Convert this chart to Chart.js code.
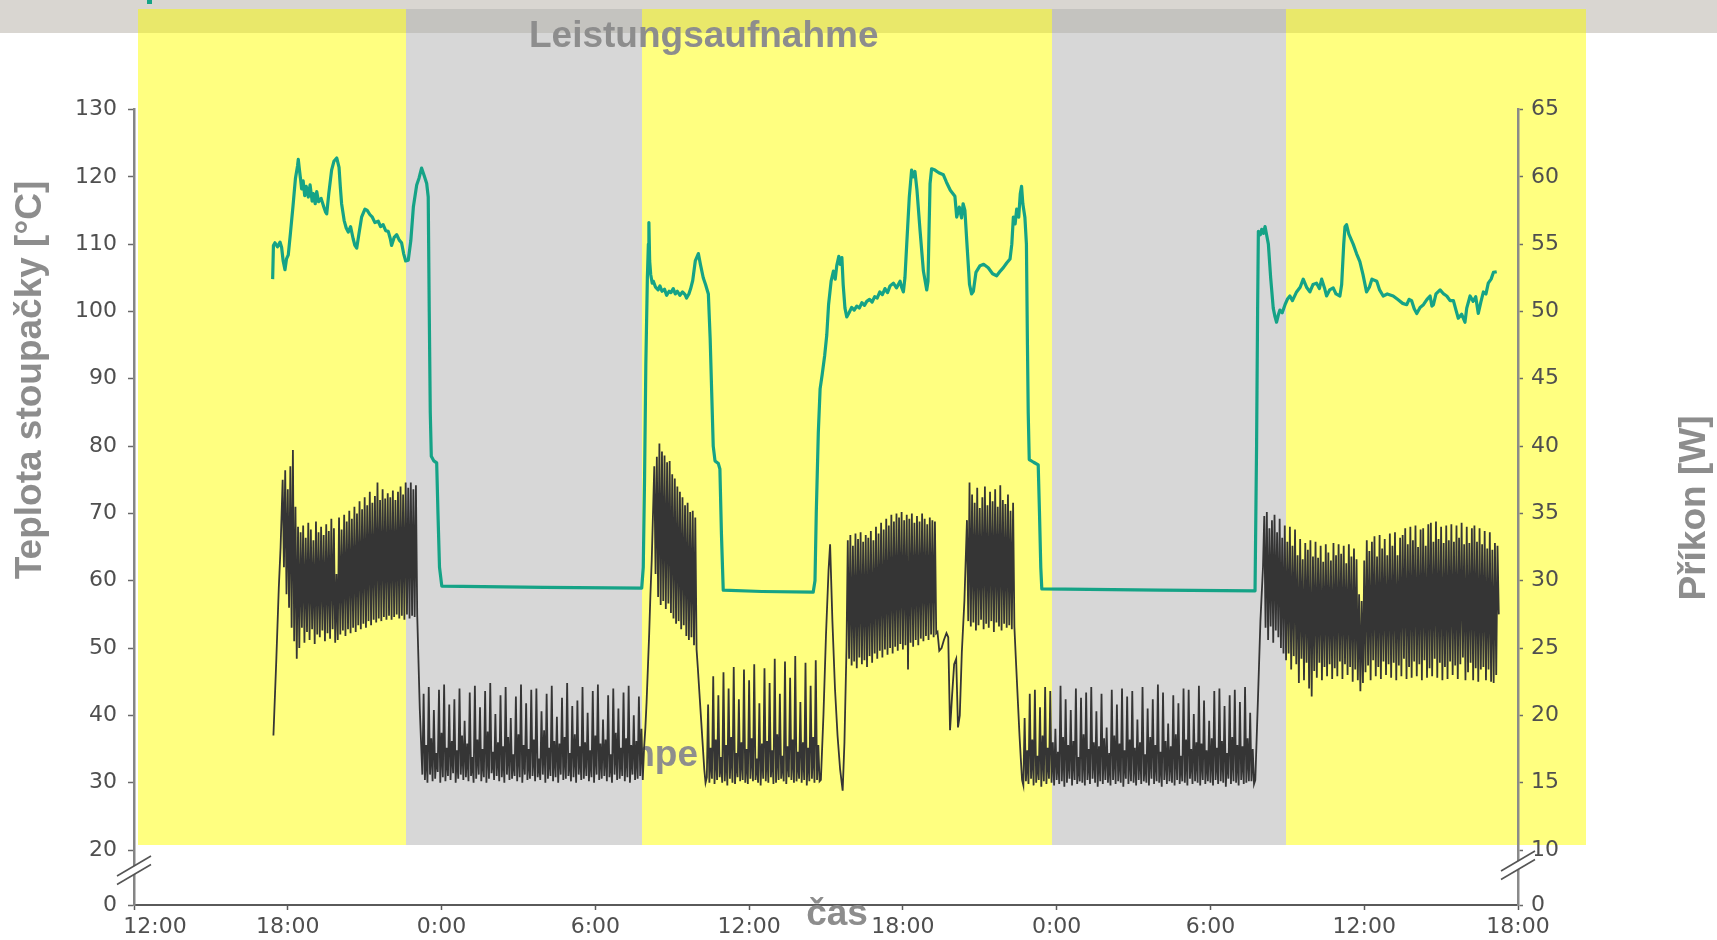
<!DOCTYPE html>
<html>
<head>
<meta charset="utf-8">
<script src="https://cdn.jsdelivr.net/npm/chart.js@4.4.1/dist/chart.umd.min.js"></script>
<style>
  html, body { margin: 0; padding: 0; background: #fff; overflow: hidden; }
  canvas { display: block; }
</style>
</head>
<body>
<canvas id="chart" width="1717" height="940"></canvas>
<script>
// ---- Axes -------------------------------------------------------------
// Time axis runs in hours, starting at 12:00 on the first day.
const TIME_LABELS = ['12:00', '18:00', '0:00', '6:00', '12:00', '18:00', '0:00', '6:00', '12:00', '18:00'];
const TIME_STEP_HOURS = 6;
const TEMP_TICKS = [20, 30, 40, 50, 60, 70, 80, 90, 100, 110, 120, 130];
const POWER_TICKS = [10, 15, 20, 25, 30, 35, 40, 45, 50, 55, 60, 65];

// Day (lit) and night periods, in hours
const DAY_PERIODS = [[0.15, 10.6], [19.81, 35.81], [44.93, 56.65]];
const NIGHT_PERIODS = [[10.6, 19.81], [35.81, 44.93]];

// ---- Riser temperature [°C] as [hour, value] ---------------------------
const TEMP_DAY1 = [[5.41,104.8],[5.44,109.8],[5.5,110.2],[5.6,109.6],[5.7,110.3],[5.76,109.5],[5.82,107.5],[5.89,106.2],[5.95,107.8],[6.02,108.4],[6.1,111.5],[6.2,115.5],[6.3,119.8],[6.38,121.6],[6.41,122.6],[6.45,121.2],[6.5,119.6],[6.54,118.2],[6.6,119.4],[6.66,117.2],[6.72,118.6],[6.8,117.0],[6.87,118.8],[6.95,116.4],[7.0,117.5],[7.07,116.0],[7.13,117.8],[7.2,116.3],[7.3,116.8],[7.4,115.6],[7.47,114.8],[7.52,114.5],[7.6,117.5],[7.71,121.0],[7.8,122.3],[7.91,122.8],[8.0,121.4],[8.05,118.5],[8.1,116.0],[8.2,113.5],[8.28,112.4],[8.36,111.8],[8.45,112.6],[8.55,110.8],[8.62,109.8],[8.69,109.4],[8.78,111.6],[8.88,114.0],[9.01,115.2],[9.1,115.0],[9.2,114.4],[9.3,114.0],[9.4,113.2],[9.53,113.4],[9.62,112.6],[9.72,112.9],[9.82,112.0],[9.92,111.9],[10.0,110.8],[10.05,109.8],[10.15,111.0],[10.25,111.4],[10.35,110.6],[10.44,110.2],[10.52,108.6],[10.6,107.5],[10.7,107.6],[10.8,110.5],[10.9,115.5],[11.03,118.8],[11.12,119.8],[11.22,121.3],[11.32,120.2],[11.42,119.0],[11.48,117.0],[11.52,100],[11.56,85],[11.6,78.5],[11.7,77.8],[11.81,77.5],[11.86,70],[11.92,62],[12.01,59.2],[16.0,59.0],[19.81,58.9]];
const TEMP_DAY2_MORNING = [[19.87,62],[19.92,75],[19.97,92],[20.03,105],[20.07,110],[20.09,113.2],[20.12,107.5],[20.16,105.5],[20.22,104.2],[20.26,104.5],[20.35,103.6],[20.45,103.2],[20.52,103.8],[20.6,103.0],[20.7,103.3],[20.78,102.4],[20.88,103.0],[20.95,102.8],[21.04,103.4],[21.12,102.6],[21.2,103.0],[21.3,102.4],[21.4,102.9],[21.5,102.5],[21.56,102.0],[21.65,102.6],[21.72,103.4],[21.8,104.6],[21.9,107.5],[22.02,108.6],[22.1,107.0],[22.21,105.0],[22.3,104.0],[22.41,102.6],[22.48,96],[22.54,88],[22.6,80],[22.67,77.8],[22.8,77.4],[22.86,76.6],[22.92,67],[22.99,58.6],[24.5,58.4],[26.5,58.3]];
const TEMP_DAY2_AFTERNOON = [[26.57,60],[26.62,70],[26.7,82],[26.77,88.5],[26.85,90.6],[26.95,93.5],[27.03,96.5],[27.1,101],[27.2,104.5],[27.29,106],[27.36,104.8],[27.42,106.8],[27.5,108.2],[27.55,107],[27.62,108],[27.67,104],[27.74,100.5],[27.81,99.2],[27.9,99.8],[28.0,100.6],[28.1,100.2],[28.2,100.8],[28.3,100.5],[28.4,101.3],[28.5,100.9],[28.59,101.5],[28.7,101.8],[28.8,101.4],[28.9,102.2],[29.0,102.0],[29.1,102.9],[29.2,102.5],[29.3,103.4],[29.4,102.8],[29.5,103.8],[29.63,104.2],[29.75,103.5],[29.89,104.5],[29.95,103.6],[30.02,102.9],[30.08,105],[30.15,110],[30.25,117],[30.34,121],[30.4,120],[30.47,120.8],[30.55,118],[30.67,112],[30.8,106],[30.93,103.2],[30.98,104.5],[31.02,112],[31.06,119],[31.12,121.2],[31.25,121.0],[31.4,120.6],[31.58,120.3],[31.7,119.2],[31.85,118],[32.03,117.1],[32.1,114],[32.2,115.5],[32.29,113.9],[32.35,116],[32.42,115.0],[32.5,110],[32.6,104],[32.68,102.6],[32.75,103],[32.85,105.8],[33.01,106.8],[33.15,107],[33.33,106.5],[33.5,105.6],[33.66,105.3],[33.8,106.0],[33.92,106.5],[34.05,107.2],[34.18,107.8],[34.25,110],[34.31,114],[34.38,113],[34.44,115.2],[34.52,114],[34.58,117.5],[34.63,118.6],[34.68,116],[34.76,114],[34.82,110],[34.86,95],[34.89,85],[34.93,78],[35.1,77.6],[35.28,77.2],[35.33,70],[35.38,62],[35.42,58.8]];
const TEMP_DAY3 = [[40.0,58.6],[43.74,58.5],[43.8,80],[43.84,100],[43.87,111.9],[43.95,111.4],[44.0,112.2],[44.07,111.6],[44.13,112.6],[44.2,111.2],[44.26,110],[44.35,105],[44.45,100.5],[44.52,99.2],[44.58,98.4],[44.65,99.5],[44.71,100.2],[44.8,99.8],[44.91,101],[45.0,101.8],[45.1,102.3],[45.2,101.6],[45.36,102.9],[45.5,103.6],[45.62,104.8],[45.75,103.6],[45.88,102.9],[46.0,104.0],[46.14,104.2],[46.25,103.4],[46.34,104.8],[46.45,103.5],[46.53,102.3],[46.65,103.2],[46.79,103.5],[46.9,102.6],[47.05,102.3],[47.12,104],[47.2,110],[47.25,112.6],[47.31,112.9],[47.4,111.5],[47.57,110],[47.7,108.6],[47.83,107.4],[47.95,105.5],[48.09,102.9],[48.2,103.6],[48.3,104.8],[48.49,104.5],[48.6,103.2],[48.74,102.3],[48.9,102.6],[49.13,102.3],[49.3,101.8],[49.5,101.2],[49.66,101],[49.75,101.8],[49.85,101.6],[49.95,100.4],[50.05,99.7],[50.18,100.6],[50.31,101],[50.45,101.8],[50.57,102.3],[50.64,100.8],[50.7,101],[50.8,102.6],[50.96,103.2],[51.1,102.6],[51.22,102.3],[51.35,101.6],[51.48,101.6],[51.58,100.2],[51.67,99],[51.8,99.6],[51.93,98.4],[52.0,100.5],[52.13,102.3],[52.25,101.5],[52.35,102.2],[52.45,99.7],[52.55,101.4],[52.65,102.9],[52.75,102.6],[52.84,104.2],[52.95,104.8],[53.04,105.8],[53.17,105.9]];

// ---- Power input [W] ----------------------------------------------------
// Logged every 0.05 h; runs give their start hour, single events are [hour, value].
const SAMPLE_STEP = 0.05;
const POWER_RISE_1 = [[5.44,18.5],[5.55,24],[5.65,29.5],[5.72,32.5]];
const POWER_DAY1 = [
  37.5,31,38.2,29,36.8,28,38.5,26.5,39.7,25.5,
  35.5,24.2,34.0,25.0,33.6,26.5,34.1,25.4,33.2,26.2,
  34.3,25.6,33.8,26.4,33.0,25.3,34.4,26.0,33.6,25.8,
  34.0,26.3,33.4,25.5,34.2,26.1,33.7,25.7,34.6,26.4,
  33.9,25.4,30.5,25.6,34.7,26.0,33.8,26.3,34.9,25.9,
  34.4,26.4,35.2,26.1,34.6,26.5,35.5,26.2,35.0,26.7,
  35.9,26.4,35.3,26.8,36.2,26.5,35.6,27.0,36.6,26.7,
  35.8,27.1,36.3,26.9,37.3,27.2,36.0,27.0,36.8,27.3,
  36.1,27.1,36.5,27.4,36.2,27.1,36.7,27.3,36.0,27.5,
  36.6,27.2,37.0,27.4,36.4,27.1,37.3,27.5,36.9,27.2,
  37.3,27.4,36.8,27.3,37.1];
const POWER_NIGHT1 = [
  27.5,24.0,20.5,18.0,15.6,
  21.6,15.2,17.8,15.0,22.1,15.6,18.3,15.1,
  20.4,15.3,17.2,15.8,21.9,15.0,18.7,15.4,
  22.3,15.1,17.6,15.5,20.8,15.2,18.1,15.7,
  21.2,15.0,17.4,15.3,22.0,15.6,18.5,15.2,
  19.6,15.4,17.9,15.1,21.7,15.5,16.9,15.0,
  22.2,15.3,18.2,15.6,20.6,15.1,17.5,15.4,
  21.8,15.0,18.8,15.3,22.4,15.7,17.3,15.2,
  20.1,15.5,18.0,15.1,21.5,15.4,17.7,15.0,
  22.1,15.6,18.4,15.2,19.8,15.3,17.1,15.5,
  21.4,15.1,18.6,15.4,22.3,15.0,17.8,15.6,
  20.9,15.2,17.5,15.3,21.9,15.5,18.2,15.1,
  22.0,15.4,16.8,15.2,20.3,15.6,18.9,15.0,
  21.6,15.3,17.6,15.5,22.2,15.1,18.1,15.4,
  19.9,15.0,17.9,15.6,21.3,15.2,18.4,15.3,
  22.4,15.5,17.2,15.1,20.7,15.4,18.6,15.0,
  21.1,15.6,17.7,15.2,22.1,15.3,18.0,15.5,
  20.2,15.1,17.4,15.4,21.8,15.0,18.5,15.6,
  22.3,15.2,17.9,15.3,19.7,15.5,18.2,15.1,
  21.5,15.4,17.1,15.0,22.0,15.6,18.7,15.2,
  20.5,15.3,17.6,15.5,21.7,15.1,18.3,15.4,
  22.2,15.0,17.8,15.6,20.0,15.2,18.1,15.3,
  21.4,15.5,19.0,15.2];
const POWER_MORNING2 = [
  17.5,19,21,23.5,26,29,31.5,35,38.5,30.5,
  39.2,28.8,40.2,28.2,39.6,28.5,39.3,27.9,38.8,28.3,
  38.9,27.6,37.9,27.2,37.6,26.8,37.0,27.0,36.6,26.4,
  36.2,26.7,35.6,25.9,35.8,25.6,35.1,25.8,35.2,25.2,
  34.7,24.9,23.5,22,20.5,19,17.5,16];
const POWER_MIDDAY2 = [
  15.0,15.4,
  20.8,15.0,17.6,15.3, 22.9,14.9,18.2,15.2, 21.5,15.4,16.9,15.0,
  23.2,15.1,17.8,14.8, 22.0,15.3,18.4,15.0, 23.6,14.9,17.2,15.4,
  21.2,15.1,18.0,15.2, 23.4,15.0,17.5,14.9, 22.6,15.3,18.3,15.1,
  23.8,15.2,16.8,15.0, 20.9,14.8,17.9,15.3, 23.5,15.1,18.1,15.0,
  22.4,15.4,17.4,14.9, 24.2,15.0,18.6,15.2, 21.6,15.3,17.0,15.1,
  24.0,14.9,17.7,15.4, 22.8,15.2,18.2,15.0, 24.4,15.1,17.3,15.3,
  21.0,15.0,18.0,15.2, 23.9,14.8,17.6,15.1, 22.2,15.3,18.4,15.0,
  24.1,15.2,17.8,15.1];
const POWER_SPIKE2 = [[26.8,15.2],[26.9,20],[27.0,26],[27.1,30.8],[27.16,32.7],[27.25,27],[27.35,22],[27.45,18.5],[27.55,16],[27.65,14.4],[27.72,18],[27.8,25]];
const POWER_AFTERNOON2 = [
  33.0,24.2,33.4,23.7,32.6,24.0,33.5,23.5,33.1,24.3,
  33.6,23.8,32.9,24.1,33.4,23.6,33.2,24.4,33.7,23.9,
  33.0,24.6,34.0,24.2,33.5,24.8,34.3,24.3,33.8,24.9,
  34.6,24.5,34.1,25.0,34.9,24.6,34.4,25.1,35.0,24.8,
  34.7,25.3,35.1,24.9,34.5,25.2,34.9,23.4,34.6,25.4,
  35.0,25.1,34.3,25.6,34.8,25.2,34.4,25.7,35.0,25.5,
  34.6,25.9,34.2,25.6,34.7,26.0,34.5,25.8,34.4,26.1];
const POWER_DIP2 = [[31.35,26.2],[31.42,24.8],[31.51,25.0],[31.6,25.6],[31.7,26.1],[31.77,25.8],[31.84,18.9],[31.92,21.5],[32.0,23.8],[32.08,24.2],[32.15,19.1],[32.22,20],[32.3,24.7],[32.4,28.5]];
const POWER_EVENING2 = [
  31.5,34.5,27.0,37.3,26.6,36.4,26.9,35.8,26.3,36.9,
  26.7,35.4,27.1,36.2,26.4,37.0,26.8,35.6,26.5,36.6,
  27.0,35.9,26.2,36.8,26.9,35.5,26.6,37.1,26.3,36.0,
  26.8,35.7,26.5,36.4,26.7,35.2,26.4,35.8,26.6];
const POWER_NIGHT2 = [
  24.5,22.5,20.5,18.5,16.8,15.2,14.8,
  19.8,15.1,17.4,14.9,21.6,15.3,18.2,14.8,
  21.9,15.0,17.0,15.2,20.6,14.7,18.5,15.1,
  22.1,14.9,17.6,15.3,21.8,15.0,18.0,14.8,
  19.0,15.2,17.3,14.9,22.2,15.1,18.4,14.7,
  21.2,15.0,17.8,15.3,20.4,14.8,18.1,15.2,
  22.0,14.9,16.9,15.1,21.3,15.0,18.6,14.8,
  21.7,15.2,17.5,14.9,22.1,15.3,18.0,15.0,
  20.3,14.7,17.7,15.1,21.6,14.9,18.3,15.2,
  19.1,15.0,17.2,14.8,21.9,15.2,18.5,14.9,
  20.8,15.1,17.9,15.0,22.0,14.7,17.4,15.3,
  21.4,14.9,18.2,15.1,21.8,15.0,17.6,14.8,
  19.7,15.2,18.0,14.9,22.1,15.1,17.1,15.0,
  20.5,14.8,18.4,15.3,21.2,14.9,17.8,15.1,
  22.3,15.0,17.3,14.7,21.7,15.2,18.1,14.9,
  19.4,15.1,17.7,15.0,21.5,14.8,18.6,15.2,
  20.9,14.9,17.0,15.1,22.0,15.0,18.2,14.8,
  21.9,15.3,17.5,14.9,20.1,15.1,18.0,15.0,
  22.2,14.8,17.9,15.2,21.1,14.9,17.4,15.1,
  19.6,15.0,18.3,14.8,21.8,15.2,17.6,14.9,
  22.0,15.1,18.1,15.0,20.7,14.7,17.2,15.3,
  21.5,14.9,18.4,15.1,21.9,15.0,17.8,14.8,
  21.0,15.2,17.7,14.9,22.1,15.0,18.3,15.1,
  20.2,15.1,17.5,14.9];
const POWER_RISE_3 = [[43.75,15.2],[43.85,21],[43.95,27],[44.05,31]];
const POWER_DAY3 = [
  34.8,26.5,35.1,25.6,33.9,26.6,34.5,25.4,34.9,26.3,
  33.6,25.8,34.6,25.0,33.2,24.6,34.1,24.1,32.9,24.6,
  34.0,23.4,32.6,24.4,33.8,23.8,31.9,22.4,33.1,24.2,
  31.6,22.6,32.8,23.9,32.3,22.0,33.0,21.4,31.8,23.3,
  32.9,22.8,31.7,23.9,32.6,22.6,31.4,23.6,32.7,22.9,
  32.1,23.8,31.5,22.7,32.8,23.5,31.9,22.9,32.7,24.0,
  32.0,22.7,32.6,23.8,31.3,23.0,32.7,23.6,31.8,22.5,
  32.4,23.4,31.6,22.6,29.0,21.8,28.5,22.4,31.5,23.2,
  33.0,23.7,32.2,22.6,32.9,24.1,33.3,22.9,31.8,23.6,
  33.4,22.7,32.4,24.0,33.1,23.0,31.9,23.8,33.5,22.8,
  32.6,23.9,33.6,22.6,31.9,23.7,33.2,22.9,33.4,24.2,
  33.9,22.7,32.7,23.6,34.0,22.8,33.0,24.0,34.1,22.9,
  32.5,23.8,33.8,22.6,33.9,24.1,32.6,22.8,34.2,23.5,
  34.3,22.9,32.9,24.2,34.4,22.8,33.1,23.9,34.0,22.6,
  32.8,23.6,34.1,22.7,33.0,24.0,34.2,23.0,32.9,23.7,
  34.1,22.7,33.2,23.8,34.3,24.3,32.7,22.6,34.0,23.2,
  32.8,23.9,33.9,22.6,34.1,23.5,32.9,22.5,33.9,23.4,
  32.7,23.6,33.7,22.6,32.4,23.4,33.6,22.5,32.3,22.4,
  32.8,23.0,32.6,27.5];

// ---- Build point lists ---------------------------------------------------
const pairs = list => list.map(([x, y]) => ({ x, y }));
const run = (t0, values) => values.map((y, i) => ({ x: +(t0 + i * SAMPLE_STEP).toFixed(3), y }));

const temperaturePoints = pairs([...TEMP_DAY1, ...TEMP_DAY2_MORNING, ...TEMP_DAY2_AFTERNOON, ...TEMP_DAY3]);
const powerPoints = [
  ...pairs(POWER_RISE_1),
  ...run(5.8, POWER_DAY1),
  ...run(11.05, POWER_NIGHT1),
  ...run(19.9, POWER_MORNING2),
  ...run(22.3, POWER_MIDDAY2),
  ...pairs(POWER_SPIKE2),
  ...run(27.85, POWER_AFTERNOON2),
  ...pairs(POWER_DIP2),
  ...run(32.45, POWER_EVENING2),
  ...run(34.4, POWER_NIGHT2),
  ...pairs(POWER_RISE_3),
  ...run(44.1, POWER_DAY3)
];

// Broken value axes: the lowest position carries the "0" label.
const TEMP_MAX = 130, TEMP_BREAK_MIN = 11.83;
const POWER_MAX = 65, POWER_BREAK_MIN = TEMP_BREAK_MIN / 2;

// ---- Styling --------------------------------------------------------------
const TEAL = '#15a386';
const INK = '#353535';
const CAPTION = '#8d8d8d';
const TICK_TEXT = '#4f4f4f';
const CAPTION_FONT = 'bold 37px "Liberation Sans", Arial, sans-serif';
const BAND_TOP = 9, BAND_BOTTOM = 845, HEADER_BOTTOM = 33;

const backdrop = {
  id: 'backdrop',
  beforeDraw(chart) {
    const { ctx, scales: { x } } = chart;
    const px = v => Math.round(x.getPixelForValue(v));
    ctx.save();
    ctx.fillStyle = '#ffffff';
    ctx.fillRect(0, 0, chart.width, chart.height);
    ctx.fillStyle = '#d9d6d1';
    ctx.fillRect(0, 0, chart.width, HEADER_BOTTOM);

    ctx.fillStyle = '#ffff80';
    DAY_PERIODS.forEach(([a, b]) => ctx.fillRect(px(a), BAND_TOP, px(b) - px(a), BAND_BOTTOM - BAND_TOP));

    // slide caption lying underneath the night shading
    ctx.font = CAPTION_FONT;
    ctx.fillStyle = CAPTION;
    ctx.textAlign = 'right';
    ctx.textBaseline = 'alphabetic';
    ctx.fillText('Pumpe', 698, 766);

    ctx.fillStyle = '#d7d7d7';
    NIGHT_PERIODS.forEach(([a, b]) => ctx.fillRect(px(a), BAND_TOP, px(b) - px(a), BAND_BOTTOM - BAND_TOP));

    // where the bands run under the header strip
    ctx.fillStyle = '#e9e86a';
    DAY_PERIODS.forEach(([a, b]) => ctx.fillRect(px(a), BAND_TOP, px(b) - px(a), HEADER_BOTTOM - BAND_TOP));
    ctx.fillStyle = '#c4c3bf';
    NIGHT_PERIODS.forEach(([a, b]) => ctx.fillRect(px(a), BAND_TOP, px(b) - px(a), HEADER_BOTTOM - BAND_TOP));

    ctx.fillStyle = TEAL;
    ctx.fillRect(147, 0, 5, 4);
    ctx.restore();
  }
};

function axisBreak(ctx, cx, cy) {
  const dx = 17, slope = 20 / 34, gap = 8.5;
  ctx.fillStyle = '#ffffff';
  ctx.beginPath();
  ctx.moveTo(cx - dx, cy + dx * slope);
  ctx.lineTo(cx + dx, cy - dx * slope);
  ctx.lineTo(cx + dx, cy - dx * slope + gap);
  ctx.lineTo(cx - dx, cy + dx * slope + gap);
  ctx.closePath();
  ctx.fill();
  ctx.strokeStyle = '#555555';
  ctx.lineWidth = 1.6;
  [0, gap].forEach(off => {
    ctx.beginPath();
    ctx.moveTo(cx - dx, cy + dx * slope + off);
    ctx.lineTo(cx + dx, cy - dx * slope + off);
    ctx.stroke();
  });
}

const overlay = {
  id: 'overlay',
  afterDraw(chart) {
    const { ctx, chartArea } = chart;
    ctx.save();
    axisBreak(ctx, chartArea.left, 866);
    axisBreak(ctx, chartArea.right, 861);

    ctx.font = CAPTION_FONT;
    ctx.fillStyle = CAPTION;
    ctx.textBaseline = 'alphabetic';

    ctx.textAlign = 'left';
    ctx.fillText('Leistungsaufnahme', 529, 47);

    ctx.textAlign = 'center';
    ctx.fillText('čas', 837, 925);

    ctx.save();
    ctx.translate(41, 380);
    ctx.rotate(-Math.PI / 2);
    ctx.fillText('Teplota stoupačky [°C]', 0, 0);
    ctx.restore();

    ctx.save();
    ctx.translate(1705, 508);
    ctx.rotate(-Math.PI / 2);
    ctx.fillText('Příkon [W]', 0, 0);
    ctx.restore();
    ctx.restore();
  }
};

const tickFont = { family: '"DejaVu Sans", sans-serif', size: 22 };

new Chart(document.getElementById('chart'), {
  type: 'line',
  data: {
    datasets: [
      {
        label: 'Teplota stoupačky',
        data: temperaturePoints,
        yAxisID: 'yT',
        borderColor: TEAL,
        borderWidth: 3.2,
        borderJoinStyle: 'round',
        pointRadius: 0,
        tension: 0,
        fill: false
      },
      {
        label: 'Příkon',
        data: powerPoints,
        yAxisID: 'yP',
        borderColor: INK,
        borderWidth: 1.8,
        borderJoinStyle: 'miter',
        pointRadius: 0,
        tension: 0,
        fill: false
      }
    ]
  },
  options: {
    responsive: false,
    animation: false,
    devicePixelRatio: 1,
    layout: { padding: { top: 109.5, left: 0, right: 0, bottom: 0 } },
    plugins: { legend: { display: false }, tooltip: { enabled: false }, title: { display: false } },
    scales: {
      x: {
        type: 'linear',
        position: 'bottom',
        min: 0,
        max: (TIME_LABELS.length - 1) * TIME_STEP_HOURS,
        afterFit(s) { s.height = 35; },
        afterBuildTicks(s) { s.ticks = TIME_LABELS.map((_, i) => ({ value: i * TIME_STEP_HOURS })); },
        ticks: {
          autoSkip: false,
          maxRotation: 0,
          padding: 4,
          color: TICK_TEXT,
          font: tickFont,
          callback: (v, i) => (i === 0 ? '      ' : '') + TIME_LABELS[i]
        },
        grid: { drawOnChartArea: false, drawTicks: true, tickLength: 5, color: '#5a5a5a', tickWidth: 1.5 },
        border: { display: true, color: '#5a5a5a', width: 2 }
      },
      yT: {
        position: 'left',
        min: TEMP_BREAK_MIN,
        max: TEMP_MAX,
        afterFit(s) { s.width = 134; },
        afterBuildTicks(s) { s.ticks = [{ value: TEMP_BREAK_MIN }, ...TEMP_TICKS.map(v => ({ value: v }))]; },
        ticks: {
          padding: 11,
          color: TICK_TEXT,
          font: tickFont,
          callback: v => (v === TEMP_BREAK_MIN ? '0' : String(v))
        },
        grid: { drawOnChartArea: false, drawTicks: true, tickLength: 6, color: '#6a6a6a', tickWidth: 1.5 },
        border: { display: true, color: '#858585', width: 2.5 }
      },
      yP: {
        position: 'right',
        min: POWER_BREAK_MIN,
        max: POWER_MAX,
        afterFit(s) { s.width = 199; },
        afterBuildTicks(s) { s.ticks = [{ value: POWER_BREAK_MIN }, ...POWER_TICKS.map(v => ({ value: v }))]; },
        ticks: {
          padding: 8,
          color: TICK_TEXT,
          font: tickFont,
          callback: v => (v === POWER_BREAK_MIN ? '0' : String(v))
        },
        grid: { drawOnChartArea: false, drawTicks: true, tickLength: 5, color: '#6a6a6a', tickWidth: 1.5 },
        border: { display: true, color: '#8a8a8a', width: 2.5 }
      }
    }
  },
  plugins: [backdrop, overlay]
});
</script>
</body>
</html>
